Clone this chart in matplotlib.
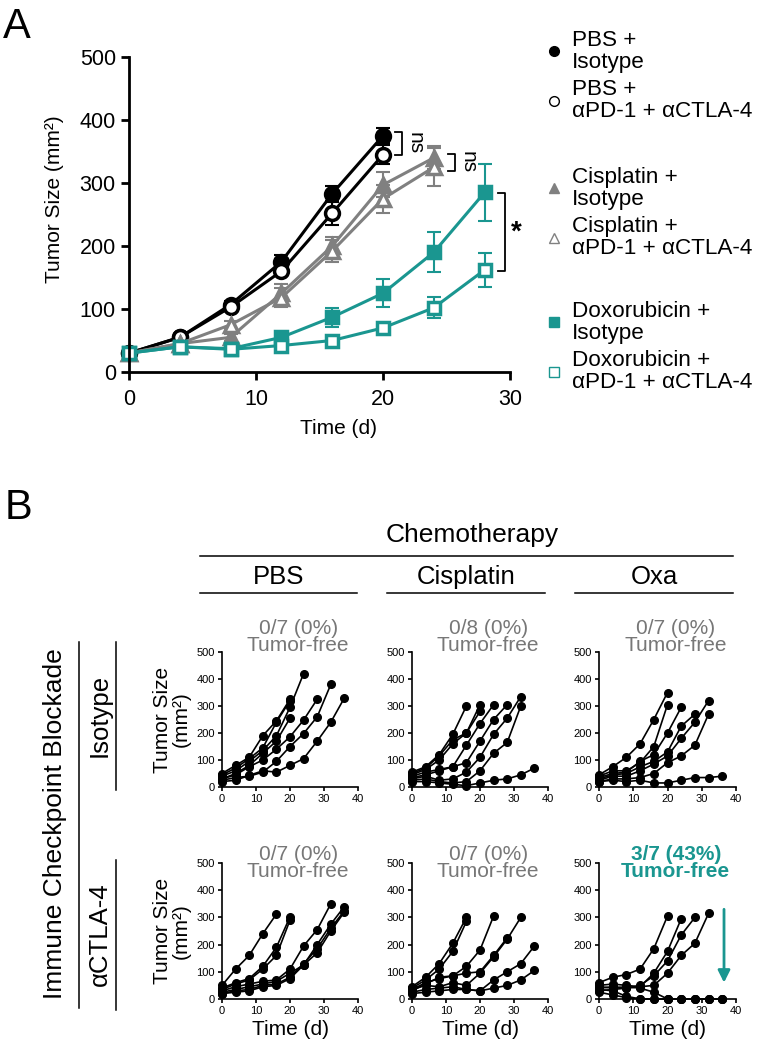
import numpy as np
import matplotlib
matplotlib.use("Agg")
import matplotlib.pyplot as plt
from matplotlib.lines import Line2D

plt.rcParams['font.family'] = ['Liberation Sans', 'DejaVu Sans']

W, H = 767, 1050
TEAL = '#1a9690'
GRAY = '#808080'
TXT_GRAY = '#777777'

# ---- panel A: mean tumor size +/- SEM ----
days_a = [0, 4, 8, 12, 16, 20, 24, 28]

pbs_iso = [30, 55, 107, 175, 283, 375]
pbs_iso_err = [3, 4, 6, 10, 12, 12]
pbs_ab = [30, 55, 103, 160, 252, 345]
pbs_ab_err = [3, 4, 6, 8, 18, 15]
cis_iso = [30, 45, 55, 125, 200, 297, 340]
cis_iso_err = [3, 4, 5, 15, 15, 20, 18]
cis_ab = [30, 45, 75, 118, 192, 275, 325]
cis_ab_err = [3, 4, 6, 15, 18, 22, 30]
dox_iso = [30, 40, 37, 55, 87, 125, 190, 285]
dox_iso_err = [3, 3, 4, 6, 15, 22, 32, 45]
dox_ab = [30, 40, 36, 42, 50, 70, 102, 162]
dox_ab_err = [3, 3, 4, 5, 6, 8, 17, 27]

legend_labels = ['PBS +\nIsotype', 'PBS +\nαPD-1 + αCTLA-4',
                 'Cisplatin +\nIsotype', 'Cisplatin +\nαPD-1 + αCTLA-4',
                 'Doxorubicin +\nIsotype', 'Doxorubicin +\nαPD-1 + αCTLA-4']

# significance brackets: (x, y_top, y_bottom, label)
brackets = [(21.5, 381, 345, 'ns'), (25.7, 346, 319, 'ns'), (29.6, 284, 160, '*')]

# ---- panel B: individual mice, measured every 4 days ----
days_b = [0, 4, 8, 12, 16, 20, 24, 28, 32, 36]

pbs_iso_mice = [
    [50, 80, 110, 190, 245, 325],
    [45, 70, 105, 145, 240, 320],
    [40, 60, 95, 135, 190, 295, 420],
    [30, 50, 80, 125, 170, 255],
    [30, 45, 75, 100, 140, 186, 248, 325],
    [25, 35, 40, 55, 95, 150, 198, 260, 380],
    [20, 25, 43, 60, 55, 80, 105, 170, 240, 330],
]
pbs_ctla_mice = [
    [50, 110, 160, 240, 312],
    [40, 60, 75, 120, 190, 302],
    [35, 55, 70, 110, 160, 290],
    [30, 45, 55, 65, 70, 110, 195, 255, 350],
    [25, 35, 45, 55, 65, 95, 125, 200, 275, 340],
    [20, 30, 35, 50, 55, 80, 130, 185, 260, 325],
    [20, 25, 30, 45, 50, 75, 125, 170, 250, 320],
]
cis_iso_mice = [
    [55, 75, 120, 195, 300],
    [50, 70, 115, 175, 200, 305],
    [45, 65, 100, 160, 200, 280],
    [40, 55, 65, 75, 155, 235, 305],
    [35, 45, 60, 75, 90, 170, 250, 305],
    [30, 40, 25, 30, 55, 110, 195, 255, 335],
    [25, 30, 20, 15, 20, 60, 125, 165, 300],
    [20, 20, 15, 10, 5, 15, 25, 30, 45, 70],
]
cis_ctla_mice = [
    [45, 80, 130, 205, 300],
    [40, 70, 110, 175, 285],
    [35, 60, 75, 85, 120, 180, 305],
    [30, 55, 80, 85, 95, 100, 160, 225],
    [35, 50, 45, 60, 50, 95, 155, 220, 300],
    [25, 35, 40, 45, 35, 30, 70, 100, 130, 195],
    [20, 25, 30, 35, 35, 30, 40, 50, 70, 105],
]
oxa_iso_mice = [
    [45, 75, 110, 160, 250, 350],
    [40, 60, 60, 90, 150, 305],
    [35, 50, 55, 95, 120, 200, 295],
    [30, 45, 50, 75, 95, 130, 225, 270],
    [25, 40, 40, 60, 85, 115, 180, 240, 320],
    [20, 30, 30, 35, 50, 90, 115, 155, 270],
    [20, 25, 20, 25, 15, 15, 25, 35, 35, 40],
]
oxa_ctla_mice = [
    [60, 80, 90, 110, 185, 305],
    [50, 55, 50, 45, 95, 175, 295],
    [40, 45, 40, 50, 85, 140, 235, 300],
    [30, 35, 40, 45, 50, 95, 160, 205, 315],
    [35, 30, 10, 0, 0, 0, 0, 0, 0, 0],
    [25, 15, 5, 0, 0, 0, 0, 0, 0, 0],
    [45, 40, 45, 40, 25, 0, 0, 0, 0, 0],
]

chemo_names = ['PBS', 'Cisplatin', 'Oxa']
icb_names = ['Isotype', 'αCTLA-4']
grid_mice = [[pbs_iso_mice, cis_iso_mice, oxa_iso_mice],
             [pbs_ctla_mice, cis_ctla_mice, oxa_ctla_mice]]
grid_text = [['0/7 (0%)\nTumor-free', '0/8 (0%)\nTumor-free', '0/7 (0%)\nTumor-free'],
             ['0/7 (0%)\nTumor-free', '0/7 (0%)\nTumor-free', '3/7 (43%)\nTumor-free']]


def box(l, t, r, b):
    """pixel box (left, top, right, bottom) -> figure fraction rect"""
    return [l / W, 1 - b / H, (r - l) / W, (b - t) / H]


def fx(x):
    return x / W


def fy(y):
    return 1 - y / H


fig = plt.figure(figsize=(W / 100, H / 100), dpi=100)

# ================= panel A =================
ax = fig.add_axes(box(129, 57, 510, 372))
series = [
    (pbs_iso, pbs_iso_err, 'o', 'k', 'k', 10),
    (pbs_ab, pbs_ab_err, 'o', 'white', 'k', 10),
    (cis_iso, cis_iso_err, '^', GRAY, GRAY, 10),
    (cis_ab, cis_ab_err, '^', 'white', GRAY, 10),
    (dox_iso, dox_iso_err, 's', TEAL, TEAL, 9),
    (dox_ab, dox_ab_err, 's', 'white', TEAL, 9),
]
handles = []
for vals, err, mk, fc, ec, ms in series:
    x = days_a[:len(vals)]
    ax.errorbar(x, vals, yerr=err, fmt='none', ecolor=ec, elinewidth=1.5,
                capsize=5, capthick=1.5, clip_on=False)
    ln, = ax.plot(x, vals, marker=mk, color=ec, mfc=fc, mec=ec, ms=ms,
                  mew=2.5, lw=2.2, clip_on=False)
    handles.append(Line2D([], [], ls='none', marker=mk, mfc=fc, mec=ec,
                          ms=7, mew=1))

for bx, ytop, ybot, lab in brackets:
    ax.plot([bx - 0.55, bx, bx, bx - 0.55], [ytop, ytop, ybot, ybot],
            color='k', lw=1.3, clip_on=False)
    if lab == 'ns':
        ax.text(bx + 0.25, (ytop + ybot) / 2, lab, rotation=-90, ha='left',
                va='center', fontsize=15, clip_on=False)
    else:
        ax.text(bx + 0.5, (ytop + ybot) / 2, lab, ha='left', va='center',
                fontsize=20, fontweight='bold', clip_on=False)

ax.set_xlim(0, 30)
ax.set_ylim(0, 500)
ax.set_xticks([0, 10, 20, 30])
ax.set_yticks([0, 100, 200, 300, 400, 500])
for s in ['top', 'right']:
    ax.spines[s].set_visible(False)
for s in ['left', 'bottom']:
    ax.spines[s].set_linewidth(2)
ax.tick_params(width=2, length=6, labelsize=15.5)
ax.tick_params(axis='x', pad=6)
ax.set_xlabel('Time (d)', fontsize=15)
ax.set_ylabel('Tumor Size (mm²)', fontsize=15)
ax.xaxis.set_label_coords(0.55, -0.15)
ax.yaxis.set_label_coords(-0.17, 0.55)

pair_centers = [76, 213, 347]
for i, yc in enumerate(pair_centers):
    leg = fig.legend(handles[2 * i:2 * i + 2], legend_labels[2 * i:2 * i + 2],
                     loc='center left', bbox_to_anchor=(fx(546), fy(yc)),
                     frameon=False, fontsize=16.2, handlelength=0.7,
                     handletextpad=0.45, labelspacing=0.3, borderpad=0,
                     borderaxespad=0)
    for t in leg.get_texts():
        t.set_linespacing(1.05)

fig.text(fx(17), fy(27), 'A', fontsize=30, ha='center', va='center')

# ================= panel B =================
fig.text(fx(18), fy(508), 'B', fontsize=30, ha='center', va='center')

fig.text(fx(472), fy(535), 'Chemotherapy', fontsize=19, ha='center', va='center')
fig.add_artist(Line2D([fx(200), fx(733)], [fy(556), fy(556)], color='k', lw=1.1))
col_spans = [(200, 357), (387, 545), (575, 733)]
for name, (l, r) in zip(chemo_names, col_spans):
    fig.text(fx((l + r) / 2), fy(577), name, fontsize=18.5, ha='center', va='center')
    fig.add_artist(Line2D([fx(l), fx(r)], [fy(593), fy(593)], color='k', lw=1.1))

fig.text(fx(55), fy(824), 'Immune Checkpoint Blockade', fontsize=19,
         rotation=90, ha='center', va='center')
fig.add_artist(Line2D([fx(79), fx(79)], [fy(642), fy(1008)], color='k', lw=1.1))
row_spans = [(642, 790), (860, 1010)]
for name, (t, b) in zip(icb_names, row_spans):
    fig.text(fx(100), fy((t + b) / 2 - 1), name, fontsize=18.5, rotation=90,
             ha='center', va='center')
    fig.add_artist(Line2D([fx(116), fx(116)], [fy(t), fy(b)], color='k', lw=1.1))

col_px = [(222, 358), (412, 548), (599, 736)]
row_px = [(652, 787), (863, 999)]
text_y = [1.11, 1.0]
for r in range(2):
    for c in range(3):
        axb = fig.add_axes(box(col_px[c][0], row_px[r][0], col_px[c][1], row_px[r][1]))
        for mouse in grid_mice[r][c]:
            axb.plot(days_b[:len(mouse)], mouse, color='k', lw=1.2, marker='o',
                     ms=5.5, clip_on=False)
        axb.set_xlim(0, 40)
        axb.set_ylim(0, 500)
        axb.set_xticks([0, 10, 20, 30, 40])
        axb.set_yticks([0, 100, 200, 300, 400, 500])
        for s in ['top', 'right']:
            axb.spines[s].set_visible(False)
        for s in ['left', 'bottom']:
            axb.spines[s].set_linewidth(1.2)
        axb.tick_params(width=1.2, length=3, labelsize=8, pad=2)
        highlight = (r == 1 and c == 2)
        axb.text(0.56, text_y[r], grid_text[r][c], transform=axb.transAxes,
                 ha='center', va='center', fontsize=15, linespacing=0.9,
                 color=TEAL if highlight else TXT_GRAY,
                 fontweight='bold' if highlight else 'normal')
        if c == 0:
            axb.text(-0.37, 0.5, 'Tumor Size\n(mm²)', transform=axb.transAxes,
                     rotation=90, ha='center', va='center', fontsize=15,
                     linespacing=0.95)
        if r == 1:
            axb.set_xlabel('Time (d)', fontsize=15, labelpad=3)
        if highlight:
            axb.annotate('', xy=(36.5, 50), xytext=(36.5, 340),
                         arrowprops=dict(arrowstyle='-|>', color=TEAL, lw=2,
                                         mutation_scale=18))

fig.savefig('out.png', dpi=100)
